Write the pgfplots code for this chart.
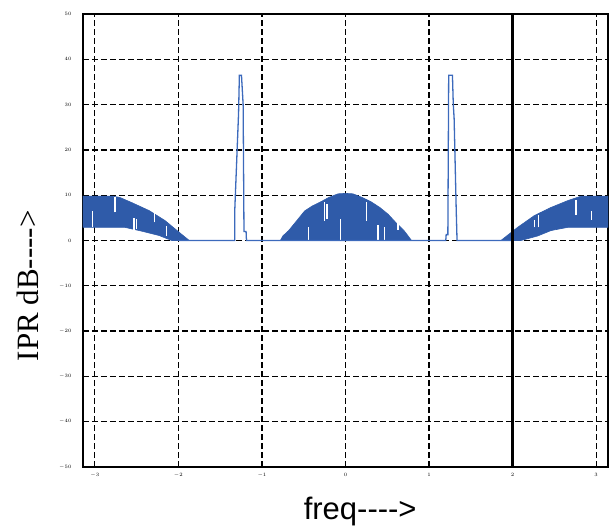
\documentclass[border=0pt]{standalone}
\usepackage{fontspec}
\setmainfont{Liberation Serif}
\newfontfamily\arialf{Liberation Sans}
\usepackage{pgfplots}
\pgfplotsset{compat=1.18}
\definecolor{hump}{RGB}{47,91,169}
\definecolor{sline}{RGB}{60,106,188}
\begin{document}
\begin{tikzpicture}
\begin{axis}[
  scale only axis, width=525pt, height=453pt,
  xmin=-3.1416, xmax=3.1416, ymin=-50, ymax=50,
  xtick={-3,-2,-1,0,1,2,3}, ytick={-50,-40,-30,-20,-10,0,10,20,30,40,50},
  grid=major,
  major grid style={black, line width=1.3pt, dash pattern=on 6pt off 3pt},
  axis line style={black, line width=1.6pt},
  major tick length=0pt,
  tick label style={font=\fontsize{5}{5}\selectfont\bfseries, text=black},
  yticklabel style={xshift=-8pt},
  xticklabel style={yshift=-3pt},
  xlabel={\arialf freq-{}-{}-{}->},
  ylabel={IPR dB-{}-{}-{}->},
  xlabel style={font=\fontsize{31}{31}\selectfont, at={(axis description cs:0.528,-0.066)}, anchor=north, inner sep=0pt},
  ylabel style={font=\fontsize{31}{31}\selectfont, at={(axis description cs:-0.105,0.40)}, anchor=center, inner sep=0pt},
  clip=true,
  unbounded coords=jump,
]
% left hump
\addplot[draw=hump, fill=hump, line width=0.6pt] coordinates {
(-3.1416,9.8) (-2.79,9.8) (-2.7,9.5) (-2.55,8.3) (-2.35,6.6) (-2.16,4.4) (-1.99,1.8) (-1.87,0)
(-2.08,0) (-2.23,1.1) (-2.47,2.2) (-2.64,2.9) (-3.1416,2.9)} --cycle;
% central hump
\addplot[draw=hump, fill=hump, line width=0.6pt] coordinates {
(-0.78,0) (-0.75,1.0) (-0.68,2.2) (-0.6,4.0) (-0.49,6.5) (-0.4,7.6) (-0.29,8.6) (-0.2,9.5) (-0.09,10.3) (0,10.4)
(0.09,10.3) (0.2,9.5) (0.31,8.5) (0.41,7.3) (0.51,5.8) (0.6,4.0) (0.70,2.2) (0.75,1.0) (0.79,0)} --cycle;
% right hump
\addplot[draw=hump, fill=hump, line width=0.6pt] coordinates {
(1.86,0) (2.06,2.9) (2.26,5.5) (2.46,7.3) (2.66,8.8) (2.82,9.8) (3.1416,9.8)
(3.1416,2.9) (2.66,2.9) (2.46,2.2) (2.3,1.0) (2.1,0)} --cycle;
% white gaps
\addplot[white, line width=1.3pt] coordinates {
(-3.03,2.9) (-3.03,6.6) (nan,nan)
(-2.76,6.2) (-2.76,9.5) (nan,nan)
(-2.53,2.4) (-2.53,5.0) (nan,nan)
(-2.50,2.5) (-2.50,4.8) (nan,nan)
(-2.29,4.0) (-2.29,6.2) (nan,nan)
(-2.14,1.1) (-2.14,3.3) (nan,nan)
(-0.44,0) (-0.44,2.9) (nan,nan)
(-0.25,4.4) (-0.25,8.6) (nan,nan)
(-0.22,4.8) (-0.22,8.0) (nan,nan)
(-0.06,0) (-0.06,4.8) (nan,nan)
(0.25,4.4) (0.25,8.6) (nan,nan)
(0.39,0) (0.39,3.5) (nan,nan)
(0.47,0) (0.47,2.9) (nan,nan)
(0.63,2.4) (0.63,4.6) (nan,nan)
(2.26,2.9) (2.26,4.6) (nan,nan)
(2.31,2.9) (2.31,5.7) (nan,nan)
(2.76,5.7) (2.76,9.0) (nan,nan)
(2.94,4.6) (2.94,6.6)
};
% baseline and spikes
\addplot[sline, line width=1.3pt] coordinates {
(-2.0,0) (-1.325,0) (-1.325,6.8) (-1.28,28) (-1.27,36.5) (-1.245,36.5) (-1.225,30)
(-1.215,2.0) (-1.19,2.0) (-1.185,0)
(1.20,0) (1.205,1.3) (1.225,1.3) (1.235,36.5) (1.28,36.5) (1.29,30) (1.30,27) (1.325,6.8) (1.335,0) (2.0,0)};
% thick line at x = 2
\addplot[black, line width=2.8pt] coordinates {(2,-50) (2,50)};
\end{axis}
\path (current axis.south west) ++(-83pt,-55pt) coordinate (bl);
\path (current axis.north east) ++(5pt,14pt) coordinate (tr);
\useasboundingbox (bl) rectangle (tr);
\end{tikzpicture}
\end{document}
